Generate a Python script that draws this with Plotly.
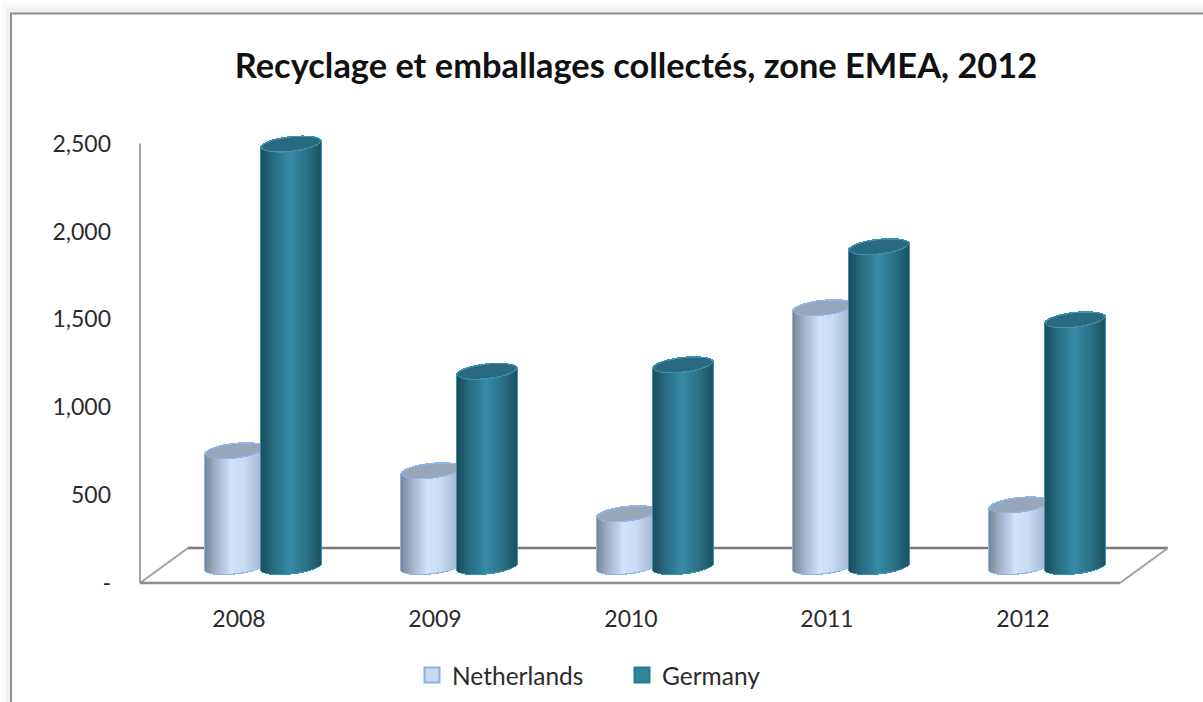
import plotly.graph_objects as go
import numpy as np

years = ["2008", "2009", "2010", "2011", "2012"]
netherlands = [658, 544, 300, 1472, 350]
germany = [2403, 1110, 1147, 1819, 1403]
y_ticks = [0, 500, 1000, 1500, 2000, 2500]
y_labels = ["-", "500", "1,000", "1,500", "2,000", "2,500"]
title = "Recyclage et emballages collectés, zone EMEA, 2012"

# --- pixel layout of the plot area
W, H = 1203, 702
L, R, B = 140, 1170, 583
PX_X = 196.0                 # pixels per category
PX_Y = 439 / 2500            # pixels per value unit
Y_MAX = 2600
T = B - Y_MAX * PX_Y
X0 = (L - 239) / PX_X
X1 = (R - 239) / PX_X

def fx(p): return (p - L) / (R - L)
def fy(p): return (B - p) / (B - T)

# --- cylinder geometry (in axis units)
DEPTH_X = 24 / PX_X
DEPTH_Y = 16.5 / PX_Y
HALF = 29.5 / PX_X
STEP = 28 / PX_X
RY = 6.8 / PX_Y
TILT = 3.2 / PX_Y
N = 60

def lerp_color(stops, t):
    ts = [s[0] for s in stops]
    c = [np.interp(t, ts, [s[1][i] for s in stops]) for i in range(3)]
    return "rgb(%d,%d,%d)" % tuple(int(round(v)) for v in c)

NL_STOPS = [(-1, (122, 134, 152)), (-0.65, (160, 176, 200)), (-0.1, (208, 227, 252)),
            (0.35, (200, 219, 245)), (1, (160, 178, 206))]
DE_STOPS = [(-1, (27, 78, 94)), (-0.55, (40, 110, 132)), (0.0, (54, 139, 165)),
            (0.45, (44, 118, 140)), (1, (30, 84, 102))]

def strips(values, offset, half, ry, tilt):
    us = (np.arange(N) + 0.5) / N * 2 - 1
    xs, vals, bases, lows, archs = [], [], [], [], []
    for i, v in enumerate(values):
        cx = i + DEPTH_X + offset
        for u in us:
            s = np.sqrt(1 - u * u)
            xs.append(cx + u * half)
            vals.append(v)
            bases.append(DEPTH_Y + tilt * u - ry * s)
            archs.append(2 * ry * s)
            lows.append(u)
    return map(np.array, (xs, vals, bases, archs, lows))

def add_cylinders(fig, values, offset, stops, edge, lid):
    sw = 2 * HALF / N * 1.2
    # outline behind the body
    x, v, b, a, u = strips(values, offset, HALF + 1.2 / PX_X, RY + 1.2 / PX_Y, TILT)
    fig.add_trace(go.Bar(x=x, y=v + a, base=b, width=sw * (HALF + 1.2 / PX_X) / HALF,
                         marker=dict(color=edge, line_width=0), showlegend=False, hoverinfo="skip"))
    # shaded body
    x, v, b, a, u = strips(values, offset, HALF, RY, TILT)
    fig.add_trace(go.Bar(x=x, y=v, base=b, width=sw,
                         marker=dict(color=[lerp_color(stops, t) for t in u], line_width=0),
                         showlegend=False, hoverinfo="skip"))
    # lid outline
    x, v, b, a, u = strips(values, offset, HALF, RY + 1 / PX_Y, TILT)
    fig.add_trace(go.Bar(x=x, y=a, base=b + v, width=sw,
                         marker=dict(color=edge, line_width=0), showlegend=False, hoverinfo="skip"))
    # lid
    x, v, b, a, u = strips(values, offset, HALF - 1 / PX_X, RY - 0.3 / PX_Y, TILT)
    fig.add_trace(go.Bar(x=x, y=a, base=b + v, width=sw,
                         marker=dict(color=lid, line_width=0), showlegend=False, hoverinfo="skip"))

fig = go.Figure()
add_cylinders(fig, netherlands, -STEP, NL_STOPS, "#8fb6e8", "#98a6ba")
add_cylinders(fig, germany, STEP, DE_STOPS, "#3f8fae", "#2a6a80")

# legend entries
fig.add_trace(go.Scatter(x=[None], y=[None], name="Netherlands", mode="markers",
                         marker=dict(symbol="square", size=15, color="#c6d9f1",
                                     line=dict(color="#8db4e2", width=2))))
fig.add_trace(go.Scatter(x=[None], y=[None], name="Germany", mode="markers",
                         marker=dict(symbol="square", size=15, color="#31859c",
                                     line=dict(color="#2a7a92", width=2))))

GREY = "#8a8a8a"
def rect(x0, y0, x1, y1, fill, line=None, w=0):
    return dict(type="rect", xref="paper", yref="paper", layer="below",
                x0=fx(x0), x1=fx(x1), y0=fy(y0), y1=fy(y1), fillcolor=fill,
                line=dict(color=line or fill, width=w))
def seg(pts, color=GREY, w=2):
    d = "M " + " L ".join("%.5f,%.5f" % (fx(a), fy(b)) for a, b in pts)
    return dict(type="path", path=d, xref="paper", yref="paper", layer="below",
                line=dict(color=color, width=w))

shapes = [
    rect(0, 0, W + 5, H + 5, "#ffffff"),
    rect(2, 3, W + 5, H + 5, "#fafafa"),
    rect(6, 8, W + 5, H + 5, "#f1f1f1"),
    rect(11, 14, W + 20, H + 20, "#ffffff", "#8c8c8c", 2),
    seg([(140, 144), (140, 583)], "#a0a0a0", 2),
    seg([(140, 583), (188, 548)], "#a0a0a0", 2),
    seg([(188, 548), (1168, 548)], "#7a7a7a", 2.5),
    seg([(1168, 548), (1120, 583)], "#a0a0a0", 2),
    seg([(140, 583), (1120, 583)], "#8c8c8c", 2.5),
]

FONT = "Lato, Carlito, Calibri, sans-serif"
fig.update_layout(
    width=W, height=H, autosize=False,
    margin=dict(l=L, r=W - R, t=T, b=H - B, pad=0, autoexpand=False),
    paper_bgcolor="white", plot_bgcolor="rgba(0,0,0,0)",
    barmode="overlay", bargap=0, shapes=shapes,
    font=dict(family=FONT, size=23, color="#2b2b2b"),
    title=dict(text="<b>%s</b>" % title, x=636 / W, y=1 - 66 / H, xanchor="center",
               yanchor="middle", xref="container", yref="container",
               font=dict(family=FONT, size=34.4, color="#111111")),
    xaxis=dict(range=[X0, X1], tickmode="array", tickvals=list(range(len(years))), ticktext=years,
               showgrid=False, zeroline=False, showline=False, ticks="", ticklabelstandoff=20,
               fixedrange=True, automargin=False),
    yaxis=dict(range=[0, Y_MAX], tickmode="array", tickvals=y_ticks, ticktext=y_labels,
               showgrid=False, zeroline=False, showline=False, ticks="", ticklabelstandoff=28,
               fixedrange=True, automargin=False),
    legend=dict(orientation="h", x=fx(412), y=fy(675), xanchor="left", yanchor="middle",
                bgcolor="rgba(0,0,0,0)", traceorder="normal", entrywidthmode="pixels", entrywidth=165,
                font=dict(size=24.5, family=FONT)),
)

fig.write_html("out.html", config={"displayModeBar": False},
               post_script="document.body.style.margin='0';")
